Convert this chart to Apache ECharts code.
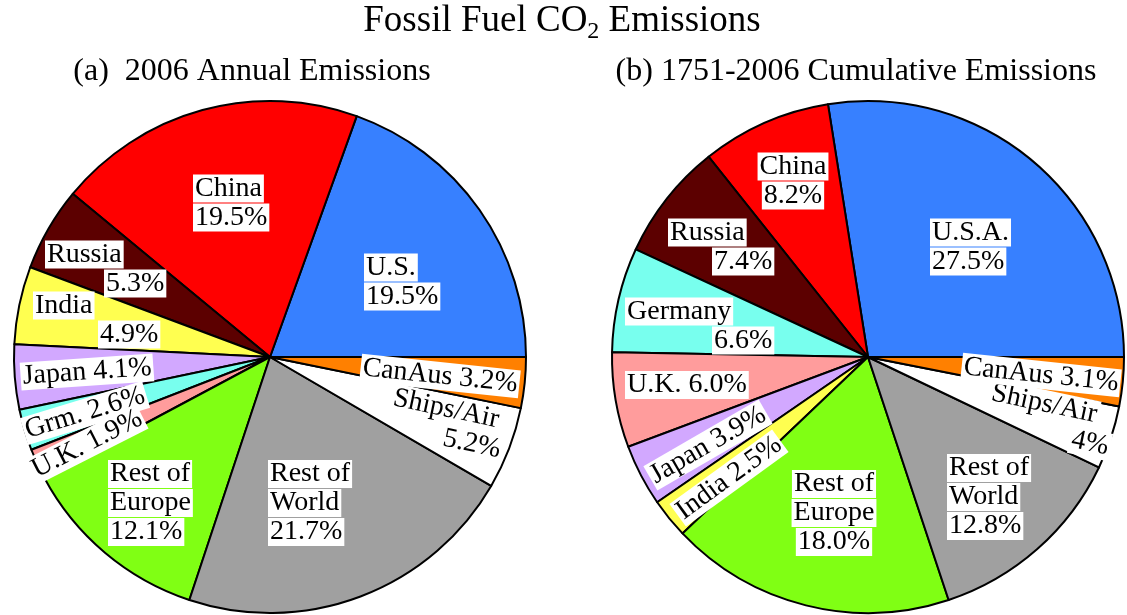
<!DOCTYPE html>
<html><head><meta charset="utf-8">
<script src="https://cdn.jsdelivr.net/npm/echarts@6/dist/echarts.min.js"></script>
<style>html,body{margin:0;padding:0;background:#fff}#c{width:1127px;height:615px}</style>
</head><body><div id="c"></div>
<script>
// ---- data ----
const titleText = 'Fossil Fuel CO{sub|2} Emissions';
const subtitleA = '(a)  2006 Annual Emissions';
const subtitleB = '(b) 1751-2006 Cumulative Emissions';

const annualNames = ['U.S.', 'China', 'Russia', 'India', 'Japan', 'Grm.', 'U.K.', 'Rest of\nEurope', 'Rest of\nWorld', 'Ships/Air', 'CanAus'];
const annualValues = [19.5, 19.5, 5.3, 4.9, 4.1, 2.6, 1.9, 12.1, 21.7, 5.2, 3.2];
const annualDecimals = [1, 1, 1, 1, 1, 1, 1, 1, 1, 1, 1];

const cumulativeNames = ['U.S.A.', 'China', 'Russia', 'Germany', 'U.K.', 'Japan', 'India', 'Rest of\nEurope', 'Rest of\nWorld', 'Ships/Air', 'CanAus'];
const cumulativeValues = [27.5, 8.2, 7.4, 6.6, 6.0, 3.9, 2.5, 18.0, 12.8, 4, 3.1];
const cumulativeDecimals = [1, 1, 1, 1, 1, 1, 1, 1, 1, 0, 1];

// ---- styles ----
const FONT = "'Liberation Serif', 'Times New Roman', serif";
const FS = 28, LH = 29;
const colorsA = ['#3780FF', '#FF0000', '#5C0000', '#FFFF50', '#D2A8FF', '#78FFEE', '#FF9C9C', '#80FF14', '#A0A0A0', '#FFFFFF', '#FF8000'];
const colorsB = ['#3780FF', '#FF0000', '#5C0000', '#78FFEE', '#FF9C9C', '#D2A8FF', '#FFFF50', '#80FF14', '#A0A0A0', '#FFFFFF', '#FF8000'];
const centers = [[270, 357], [868, 357]];
const R = 256;

// label placement (offset from pie centre, px), alignment, rotation, line layout
const placeA = [
  {dx: 94, dy: -75, align: 'left'},
  {dx: -77, dy: -154, align: 'left'},
  {dx: -225, dy: -88, align: 'left', sp: [0, 59]},
  {dx: -237, dy: -37, align: 'left', sp: [0, 65]},
  {dx: -183, dy: 15, align: 'center', rot: 4, one: true},
  {dx: -185, dy: 56, align: 'center', rot: 17, one: true},
  {dx: -183, dy: 87, align: 'center', rot: 27, one: true},
  {dx: -162, dy: 146, align: 'left'},
  {dx: -2, dy: 146, align: 'left'},
  {dx: 177, dy: 67, align: 'center', tok: 'right', rot: -12, spr: [8, 0]},
  {dx: 170, dy: 19, align: 'center', rot: -6, one: true}
];
const placeB = [
  {dx: 62, dy: -110, align: 'left'},
  {dx: -75, dy: -176, align: 'center'},
  {dx: -200, dy: -110, align: 'left', sp: [0, 44]},
  {dx: -243, dy: -31, align: 'left', sp: [0, 87]},
  {dx: -243, dy: 28, align: 'left', one: true},
  {dx: -160, dy: 88, align: 'center', rot: 30, one: true},
  {dx: -139, dy: 121, align: 'center', rot: 36, one: true},
  {dx: -34, dy: 156, align: 'center'},
  {dx: 79, dy: 140, align: 'left'},
  {dx: 182, dy: 63, align: 'center', tok: 'right', rot: -12, spr: [18, 0]},
  {dx: 173, dy: 18, align: 'center', rot: -6, one: true}
];
const places = [placeA, placeB];

function tokStyle(al) {
  return {backgroundColor: '#fff', padding: [0, 2, 0, 2], align: al, fontFamily: FONT, fontSize: FS, lineHeight: LH, color: '#000'};
}
const rich = {tl: tokStyle('left'), tc: tokStyle('center'), tr: tokStyle('right')};
function spacer(w, al) {
  const k = 's' + al[0] + w;
  if (!rich[k]) rich[k] = {width: w, align: al, fontSize: FS, lineHeight: LH, fontFamily: FONT};
  return '{' + k + '| }';
}

function makeFormatter(si, decimals) {
  return function (p) {
    const L = places[si][p.dataIndex];
    const val = p.value.toFixed(decimals[p.dataIndex]) + '%';
    const lines = L.one ? [p.name + ' ' + val] : p.name.split('\n').concat([val]);
    const tokAlign = L.tok || L.align;
    const key = tokAlign === 'left' ? 'tl' : tokAlign === 'right' ? 'tr' : 'tc';
    return lines.map(function (ln, i) {
      let s = '';
      if (L.sp && L.sp[i]) s += spacer(L.sp[i], 'left');
      s += '{' + key + '|' + ln + '}';
      if (L.spr && L.spr[i]) s += spacer(L.spr[i], 'right');
      return s;
    }).join('\n');
  };
}

function makeSeries(si, names, values, decimals, colors) {
  return {
    type: 'pie',
    center: centers[si],
    radius: R,
    startAngle: 0,
    clockwise: false,
    avoidLabelOverlap: false,
    animation: false,
    silent: true,
    itemStyle: {borderColor: '#000', borderWidth: 2},
    label: {
      show: true,
      position: 'inside',
      formatter: makeFormatter(si, decimals),
      fontFamily: FONT, fontSize: FS, lineHeight: LH, color: '#000',
      rich: rich
    },
    labelLine: {show: false},
    labelLayout: function (p) {
      const L = places[si][p.dataIndex];
      const c = centers[si];
      return {x: c[0] + L.dx, y: c[1] + L.dy, align: L.align, verticalAlign: 'middle', rotate: L.rot || 0};
    },
    data: names.map(function (n, i) {
      return {name: n, value: values[i], itemStyle: {color: colors[i]}};
    })
  };
}

// pre-build spacer styles
[placeA, placeB].forEach(function (arr) { arr.forEach(function (L) {
  (L.sp || []).forEach(function (w) { if (w) spacer(w, 'left'); });
  (L.spr || []).forEach(function (w) { if (w) spacer(w, 'right'); });
}); });

const chart = echarts.init(document.getElementById('c'), null, {renderer: 'canvas'});
chart.setOption({
  backgroundColor: '#fff',
  animation: false,
  title: [
    {text: titleText, left: 562, top: -1, textAlign: 'center', padding: 0,
     textStyle: {fontFamily: FONT, fontSize: 37, fontWeight: 'normal', color: '#000',
       rich: {sub: {fontFamily: FONT, fontSize: 24, color: '#000', padding: [21, 0, 0, 0]}}}},
    {text: subtitleA, left: 252, top: 56, textAlign: 'center', padding: 0,
     textStyle: {fontFamily: FONT, fontSize: 32, fontWeight: 'normal', color: '#000'}},
    {text: subtitleB, left: 856, top: 56, textAlign: 'center', padding: 0,
     textStyle: {fontFamily: FONT, fontSize: 32, fontWeight: 'normal', color: '#000'}}
  ],
  series: [
    makeSeries(0, annualNames, annualValues, annualDecimals, colorsA),
    makeSeries(1, cumulativeNames, cumulativeValues, cumulativeDecimals, colorsB)
  ]
});
</script>
</body></html>
